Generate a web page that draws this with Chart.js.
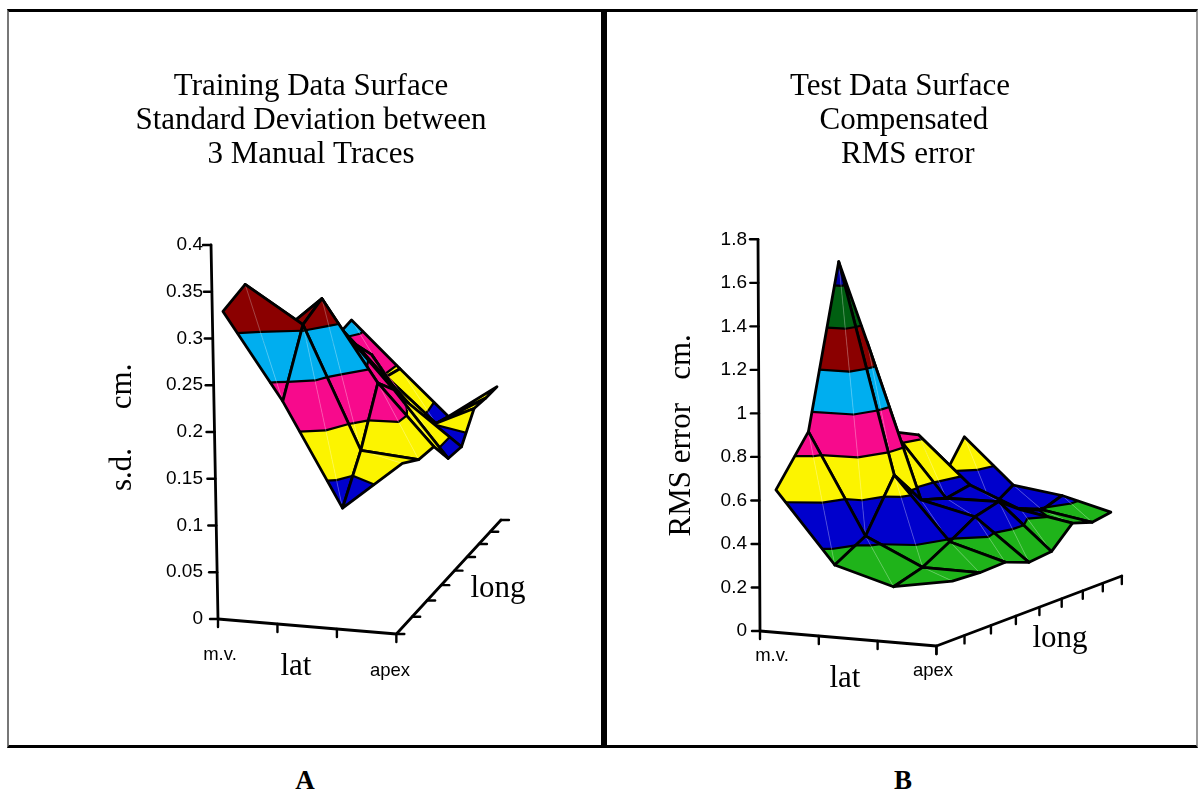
<!DOCTYPE html>
<html>
<head>
<meta charset="utf-8">
<title>Training and test data surfaces</title>
<script src="https://cdn.jsdelivr.net/npm/chart.js@4"></script>
<style>
    body { margin: 0; background: #fff; width: 1199px; height: 789px; overflow: hidden; position: relative; }
    canvas { position: absolute; }
    #frame { position: absolute; left: 7px; top: 9px; width: 1187px; height: 733px; border-top: 3px solid #000; border-bottom: 3px solid #000; border-left: 2px solid #777; border-right: 2px solid #999; }
    #divider { position: absolute; left: 601px; top: 9px; width: 6px; height: 739px; background: #000; }
    .label { position: absolute; transform: translate(-50%, -50%); white-space: nowrap; color: #000; }
    .serif { font-family: "Liberation Serif", serif; font-size: 31px; }
    .sans { font-family: "Liberation Sans", sans-serif; font-size: 18.5px; }
    .panel { font-family: "Liberation Serif", serif; font-size: 27px; font-weight: bold; }
</style>
</head>
<body>
<div id="frame"></div>
<div id="divider"></div>
<canvas id="chartA" style="left:14px;top:12px"></canvas>
<canvas id="chartB" style="left:610px;top:12px"></canvas>
<span class="label sans" style="left:220px;top:654px">m.v.</span>
<span class="label serif" style="left:296px;top:665px">lat</span>
<span class="label sans" style="left:390px;top:670px">apex</span>
<span class="label serif" style="left:498px;top:587px">long</span>
<span class="label sans" style="left:772px;top:655px">m.v.</span>
<span class="label serif" style="left:845px;top:677px">lat</span>
<span class="label sans" style="left:933px;top:670px">apex</span>
<span class="label serif" style="left:1060px;top:637px">long</span>
<span class="label panel" style="left:305px;top:780px">A</span>
<span class="label panel" style="left:903px;top:780px">B</span>
<script>
// values, one list per lat position, 8 points along long
const sdMv   = [0.322, 0.347, 0.274, 0.270, 0.265, 0.260, 0.253, 0.267];
const sdLat1 = [0.231, 0.306, 0.328, 0.288, 0.258, 0.236, 0.197, 0.195];
const sdLat2 = [0.122, 0.172, 0.235, 0.216, 0.188, 0.145, 0.137, 0.131];
const sdApex = [0.175, 0.166, 0.167, 0.140, 0.139, 0.169, 0.167, 0.166];

const rmsMv   = [0.653, 0.906, 1.713, 1.321, 0.856, 0.821, 0.558, 0.770];
const rmsLat1 = [0.331, 0.433, 0.691, 0.543, 0.520, 0.554, 0.412, 0.489];
const rmsLat2 = [0.254, 0.307, 0.390, 0.471, 0.507, 0.431, 0.394, 0.427];
const rmsApex = [0.303, 0.302, 0.311, 0.271, 0.281, 0.372, 0.337, 0.344];

const sdTicks = [0, 0.05, 0.1, 0.15, 0.2, 0.25, 0.3, 0.35, 0.4];
const rmsTicks = [0, 0.2, 0.4, 0.6, 0.8, 1, 1.2, 1.4, 1.6, 1.8];

const sdLevels = [0.15, 0.2, 0.25, 0.3];
const sdColors = ['#0000cc', '#fcf400', '#f70a8c', '#00aeef', '#8b0000'];
const rmsLevels = [0.4, 0.6, 0.8, 1, 1.2, 1.4, 1.6];
const rmsColors = ['#1fb31a', '#0000cc', '#fcf400', '#f70a8c', '#00aeef', '#8b0000', '#005f11', '#0000a0'];

const latTickCount = 4;
const longTickCount = 9;

function lerp(a, b, t) {
    return a + (b - a) * t;
}

// depth foreshortening along the long direction
function longFraction(t) {
    return t * 1.25 / (1 + 0.25 * t);
}

function buildDatasets(rows, levels, colors, view) {
    const datasets = [];
    const nLat = rows.length;
    const nLong = rows[0].length;

    const toY = py => (view.zeroY - py) / view.pxPerUnit;

    function project(i, j) {
        const u = i / (nLat - 1);
        const v = j / (nLong - 1);
        const t = longFraction(v);
        const z = rows[i][j];
        const x = lerp(lerp(view.x00, view.x30, u), lerp(view.x07, view.x37, u), t);
        const base = lerp(lerp(view.y00, view.y30, u), lerp(view.y07, view.y37, u), v);
        const shrink = 1 - view.persp * j * (1 - view.perspLat * u);
        return { x: x, y: toY(base) + z * shrink, z: z };
    }

    function line(points, color, width) {
        datasets.push({
            data: points.map(p => ({ x: p.x, y: p.y })),
            showLine: true,
            fill: false,
            borderColor: color,
            borderWidth: width,
            borderCapStyle: 'round',
            borderJoinStyle: 'round',
            pointRadius: 0,
            clip: false
        });
    }

    function polygon(points, color) {
        const closed = points.concat([points[0]]);
        datasets.push({
            data: closed.map(p => ({ x: p.x, y: p.y })),
            showLine: true,
            fill: 'shape',
            backgroundColor: color,
            borderColor: color,
            borderWidth: 0.6,
            borderJoinStyle: 'round',
            pointRadius: 0,
            clip: false
        });
    }

    function cross(a, b, level) {
        const t = (level - a.z) / (b.z - a.z);
        return { x: lerp(a.x, b.x, t), y: lerp(a.y, b.y, t), z: level };
    }

    // keep the part of a polygon on one side of a level
    function clip(points, level, keepAbove) {
        const out = [];
        points.forEach((p, k) => {
            const q = points[(k + 1) % points.length];
            const pIn = keepAbove ? p.z >= level : p.z <= level;
            const qIn = keepAbove ? q.z >= level : q.z <= level;
            if (pIn) out.push(p);
            if (pIn !== qIn) out.push(cross(p, q, level));
        });
        return out;
    }

    function drawTriangle(tri) {
        colors.forEach((color, b) => {
            let part = tri;
            if (b > 0) part = clip(part, levels[b - 1], true);
            if (part.length && b < levels.length) part = clip(part, levels[b], false);
            if (part.length > 2) polygon(part, color);
        });
        levels.forEach(level => {
            const hits = [];
            tri.forEach((p, k) => {
                const q = tri[(k + 1) % 3];
                if ((p.z - level) * (q.z - level) < 0) hits.push(cross(p, q, level));
            });
            if (hits.length === 2) line(hits, '#000', 2.2);
        });
    }

    // back to front, so nearer cells paint over farther ones
    for (let j = nLong - 2; j >= 0; j--) {
        for (let i = 0; i < nLat - 1; i++) {
            const a = project(i, j);
            const b = project(i + 1, j);
            const c = project(i + 1, j + 1);
            const d = project(i, j + 1);
            drawTriangle([a, b, d]);
            drawTriangle([b, c, d]);
            line([b, d], 'rgba(255,255,255,0.45)', 0.6);
            line([a, b, c, d, a], '#000', 2.8);
        }
    }

    // axes are foreshortened too, so they go in as lines of their own
    const zTop = view.ticks[view.ticks.length - 1];
    const zPoint = z => ({ x: view.cornerX + view.tilt * z / zTop, y: z });
    line([zPoint(0), zPoint(zTop)], '#000', 2.8);
    view.ticks.forEach(z => {
        const p = zPoint(z);
        line([p, { x: p.x - 8, y: z }], '#000', 2.4);
    });

    const corner = { x: view.cornerX, y: 0 };
    const apex = { x: view.apexX, y: toY(view.apexY) };
    const far = { x: view.farX, y: toY(view.farY) };
    line([corner, apex, far], '#000', 2.8);
    for (let k = 0; k < latTickCount; k++) {
        const t = k / (latTickCount - 1);
        const x = lerp(corner.x, apex.x, t);
        const y = lerp(corner.y, apex.y, t);
        line([{ x: x, y: y }, { x: x, y: y - 8 / view.pxPerUnit }], '#000', 2.4);
    }
    for (let k = 0; k < longTickCount; k++) {
        const t = longFraction(k / (longTickCount - 1));
        const x = lerp(apex.x, far.x, t);
        const y = lerp(apex.y, far.y, t);
        const end = view.longTickRight
            ? { x: x + 8, y: y }
            : { x: x, y: y - 8 / view.pxPerUnit };
        line([{ x: x, y: y }, end], '#000', 2.4);
    }

    return datasets.reverse();
}

function drawPanel(canvasId, rows, levels, colors, view) {
    const canvas = document.getElementById(canvasId);
    canvas.width = view.width;
    canvas.height = view.height;
    canvas.style.width = view.width + 'px';
    canvas.style.height = view.height + 'px';

    const chart = new Chart(canvas.getContext('2d'), {
        type: 'scatter',
        data: { datasets: buildDatasets(rows, levels, colors, view) },
        options: {
            responsive: false,
            animation: false,
            events: [],
            plugins: {
                legend: { display: false },
                tooltip: { enabled: false },
                title: {
                    display: true,
                    text: view.title,
                    color: '#000',
                    font: { family: '"Liberation Serif", serif', size: 31, weight: 'normal', lineHeight: 34 / 31 },
                    padding: { top: 58, bottom: 17 }
                }
            },
            scales: {
                x: {
                    type: 'linear',
                    display: false,
                    min: view.cornerX,
                    max: view.rightX
                },
                y: {
                    type: 'linear',
                    afterBuildTicks: scale => {
                        scale.ticks = view.ticks.map(v => ({ value: v }));
                    },
                    afterFit: scale => {
                        scale.width = view.axisWidth;
                    },
                    border: { display: false },
                    grid: { display: false, drawTicks: false },
                    ticks: {
                        color: '#000',
                        padding: view.tickPad,
                        autoSkip: false,
                        font: { family: '"Liberation Sans", sans-serif', size: 19 },
                        callback: value => String(value)
                    },
                    title: {
                        display: true,
                        text: view.axisTitle,
                        color: '#000',
                        font: { family: '"Liberation Serif", serif', size: 31 },
                        padding: { top: view.titleLeft, bottom: 0 }
                    }
                }
            }
        }
    });

    // pin the value axis to the picture once the layout has settled
    const pageBottom = chart.chartArea.bottom + 12;
    const pageTop = chart.chartArea.top + 12;
    chart.options.scales.y.min = (view.zeroY - pageBottom) / view.pxPerUnit;
    chart.options.scales.y.max = (view.zeroY - pageTop) / view.pxPerUnit;
    chart.update();
    return chart;
}

drawPanel('chartA', [sdMv, sdLat1, sdLat2, sdApex], sdLevels, sdColors, {
    title: ['Training Data Surface', 'Standard Deviation between', '3 Manual Traces'],
    axisTitle: 's.d.     cm.',
    ticks: sdTicks,
    width: 594, height: 680, axisWidth: 204, titleLeft: 90, tickPad: 15,
    zeroY: 619, pxPerUnit: 935, tilt: -7,
    cornerX: 218, rightX: 608,
    apexX: 397, apexY: 634, farX: 502, farY: 520, longTickRight: true,
    x00: 223, x30: 403, x07: 352, x37: 498,
    y00: 612.5, y30: 627, y07: 512, y37: 524,
    persp: 0.033, perspLat: 0.5
});

drawPanel('chartB', [rmsMv, rmsLat1, rmsLat2, rmsApex], rmsLevels, rmsColors, {
    title: ['Test Data Surface', ' Compensated', '  RMS error'],
    axisTitle: 'RMS error   cm.',
    ticks: rmsTicks,
    width: 580, height: 694, axisWidth: 150, titleLeft: 53, tickPad: 13,
    zeroY: 631, pxPerUnit: 217.6, tilt: -2,
    cornerX: 760, rightX: 1190,
    apexX: 937, apexY: 646, farX: 1123, farY: 576, longTickRight: false,
    x00: 776, x30: 953, x07: 965, x37: 1112,
    y00: 632, y30: 647, y07: 575, y37: 587,
    persp: 0.025, perspLat: 1
});
</script>
</body>
</html>
